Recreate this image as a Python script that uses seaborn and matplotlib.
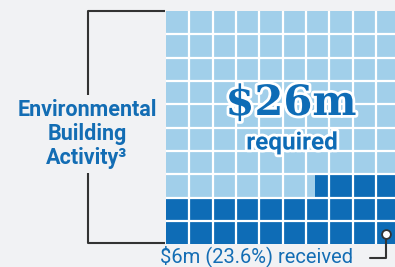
import numpy as np
import pandas as pd
import matplotlib
matplotlib.use("Agg")
import matplotlib.pyplot as plt
import matplotlib.patheffects as pe
from matplotlib.colors import ListedColormap
import seaborn as sns

# ---- data ----
category = "Environmental\nBuilding\nActivity\u00b3"
required_m = 26
received_m = 6
received_pct = 23.6
grid_rows = 10
grid_cols = 10
sub = 10  # sub-columns per cell, to show partial cells

BG = "#f1f2f4"
LIGHT = "#a1cfea"
DARK = "#0e6cb6"
TEXT_BLUE = "#136db4"
LINE = "#333333"

# build waffle matrix (fill from bottom; partial row filled from right)
total_units = int(round(received_pct * sub))  # in sub-units (1 cell = sub units)
mat = np.zeros((grid_rows, grid_cols * sub))
remaining = total_units
for r in range(grid_rows - 1, -1, -1):
    if remaining <= 0:
        break
    n = min(remaining, grid_cols * sub)
    mat[r, grid_cols * sub - n:] = 1
    remaining -= n
df = pd.DataFrame(mat)

sns.set_theme(style="white")
plt.rcParams["font.family"] = ["Roboto", "DejaVu Sans"]

W, H = 395, 267
fig = plt.figure(figsize=(W / 100, H / 100), dpi=100, facecolor=BG)

pitch = 23.33
left, top = 166, 11
ax = fig.add_axes([left / W, (H - top - grid_rows * pitch) / H,
                   grid_cols * pitch / W, grid_rows * pitch / H])
sns.heatmap(df, ax=ax, cmap=ListedColormap([LIGHT, DARK]), vmin=0, vmax=1,
            cbar=False, xticklabels=False, yticklabels=False, linewidths=0)
for i in range(1, grid_cols):
    ax.axvline(i * sub, color="white", lw=1.6)
for j in range(1, grid_rows):
    ax.axhline(j, color="white", lw=1.6)
ax.set_xlabel("")
ax.set_ylabel("")
for s in ax.spines.values():
    s.set_visible(False)

# overlay in pixel coordinates
ov = fig.add_axes([0, 0, 1, 1], facecolor="none")
ov.set_xlim(0, W)
ov.set_ylim(H, 0)
ov.axis("off")

# bracket
ov.plot([165, 87.5, 87.5], [10.5, 10.5, 95], color=LINE, lw=1.5, solid_capstyle="butt")
ov.plot([87.5, 87.5, 165], [173, 243, 243], color=LINE, lw=1.5, solid_capstyle="butt")

ov.text(87, 134, category, ha="center", va="center", color=TEXT_BLUE,
        fontsize=15.5, fontweight="bold", linespacing=1.13)

stroke = [pe.withStroke(linewidth=4, foreground="white")]
ov.text(291, 103, f"${required_m}m", ha="center", va="center", color=DARK,
        fontsize=30, fontweight="bold", family="DejaVu Serif", path_effects=stroke)
ov.text(292, 143, "required", ha="center", va="center", color=DARK,
        fontsize=17.5, fontweight="bold", path_effects=stroke)

ov.text(257, 256, f"${received_m}m ({received_pct}%) received", ha="center",
        va="center", color=TEXT_BLUE, fontsize=14.5)

# pointer
ov.plot([370, 386, 386], [258, 258, 236], color=LINE, lw=1.5)
ov.scatter([386], [234], s=40, facecolor="white", edgecolor=LINE, linewidth=1.3, zorder=5)

fig.savefig("out.png", dpi=100, facecolor=BG)
